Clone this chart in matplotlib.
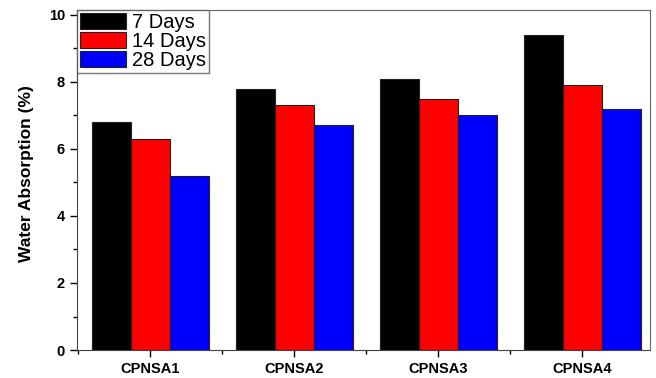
import numpy as np
import matplotlib.pyplot as plt
from matplotlib.ticker import MultipleLocator

plt.rcParams['font.family'] = ['Liberation Sans', 'DejaVu Sans']

samples = ['CPNSA1', 'CPNSA2', 'CPNSA3', 'CPNSA4']
days_labels = ['7 Days', '14 Days', '28 Days']
days7 = [6.8, 7.8, 8.1, 9.4]
days14 = [6.3, 7.3, 7.5, 7.9]
days28 = [5.2, 6.7, 7.0, 7.2]
colors = ['black', 'red', 'blue']

fig = plt.figure(figsize=(6.56, 3.78), dpi=100)
ax = fig.add_axes([0.117, 0.074, 0.874, 0.9])

x = np.arange(len(samples))
w = 0.27
for i, (vals, lab, c) in enumerate(zip([days7, days14, days28], days_labels, colors)):
    ax.bar(x + (i - 1) * w, vals, width=w, color=c, edgecolor='#222222', linewidth=0.8, label=lab)

ax.set_xlim(-0.51, 3.47)
ax.set_ylim(0, 10.15)
ax.set_xticks(x)
ax.set_xticklabels(samples, fontweight='bold', fontsize=10.5)
ax.xaxis.set_minor_locator(MultipleLocator(0.5))
ax.yaxis.set_major_locator(MultipleLocator(2))
ax.yaxis.set_minor_locator(MultipleLocator(1))
for lbl in ax.get_yticklabels():
    lbl.set_fontweight('bold')
    lbl.set_fontsize(10.5)
ax.tick_params(which='major', direction='out', length=5, width=1)
ax.tick_params(which='minor', direction='out', length=3, width=1)
ax.set_ylabel('Water Absorption (%)', fontweight='bold', fontsize=12.5)
ax.yaxis.set_label_coords(-0.075, 0.52)

for s in ['top', 'right']:
    ax.spines[s].set_color('#666666')
ax.spines['left'].set_color('#444444')
ax.spines['bottom'].set_color('#444444')

ax.legend(loc='upper left', fontsize=14.5, frameon=True, fancybox=False, edgecolor='#555555',
          handlelength=2.3, handleheight=0.8, borderpad=0.15, labelspacing=0.0,
          handletextpad=0.3, borderaxespad=0.0)

fig.savefig('out.png', dpi=100)
